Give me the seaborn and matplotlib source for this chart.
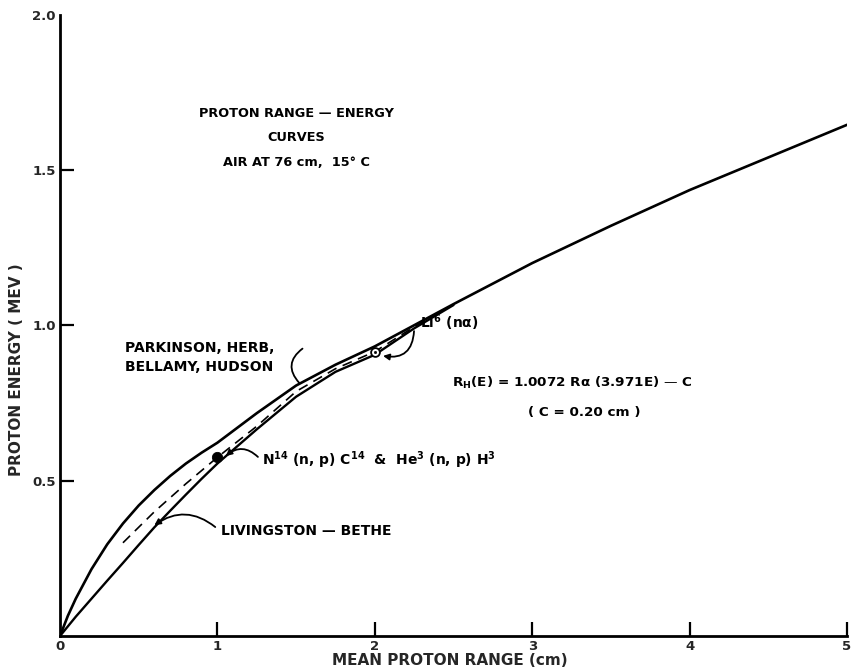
import matplotlib
matplotlib.use("Agg")
import matplotlib.pyplot as plt
import seaborn as sns
import pandas as pd

# Parkinson, Herb, Bellamy, Hudson curve (range in cm, energy in MeV)
upper_range = [0.0, 0.05, 0.1, 0.2, 0.3, 0.4, 0.5, 0.6, 0.7, 0.8, 0.9, 1.0, 1.25, 1.5, 1.75, 2.0, 2.25, 2.5, 3.0, 3.5, 4.0, 4.5, 5.0]
upper_energy = [0.0, 0.065, 0.12, 0.215, 0.295, 0.362, 0.42, 0.47, 0.515, 0.555, 0.59, 0.622, 0.717, 0.806, 0.873, 0.932, 1.0, 1.068, 1.2, 1.32, 1.435, 1.54, 1.645]

# Livingston-Bethe curve
lower_range = [0.0, 0.1, 0.2, 0.3, 0.4, 0.5, 0.6, 0.7, 0.8, 0.9, 1.0, 1.25, 1.5, 1.75, 2.0, 2.25, 2.5]
lower_energy = [0.0, 0.062, 0.12, 0.178, 0.235, 0.293, 0.35, 0.403, 0.455, 0.506, 0.555, 0.665, 0.77, 0.85, 0.905, 0.99, 1.065]

# R_H(E) = 1.0072 Ra(3.971E) - C, dashed
calc_range = [0.4, 0.6, 0.8, 1.0, 1.25, 1.5, 1.75, 2.0, 2.25, 2.4]
calc_energy = [0.30, 0.40, 0.49, 0.575, 0.675, 0.787, 0.86, 0.915, 0.995, 1.04]

# Calibration points
n14_point = (1.0, 0.575)
li6_point = (2.0, 0.915)

x_ticks = [0, 1, 2, 3, 4, 5]
x_tick_labels = ["0", "1", "2", "3", "4", "5"]
y_ticks = [0.5, 1.0, 1.5, 2.0]
y_tick_labels = ["0.5", "1.0", "1.5", "2.0"]

sns.set_theme(style="white")
plt.rcParams["font.family"] = ["DejaVu Sans"]
plt.rcParams["font.weight"] = "bold"
plt.rcParams["mathtext.default"] = "bf"

fig = plt.figure(figsize=(8.53, 6.70), dpi=100)
ax = fig.add_axes([60 / 853, 34 / 670, 787 / 853, 621.5 / 670])

upper_df = pd.DataFrame({"range": upper_range, "energy": upper_energy})
lower_df = pd.DataFrame({"range": lower_range, "energy": lower_energy})
calc_df = pd.DataFrame({"range": calc_range, "energy": calc_energy})

sns.lineplot(data=upper_df, x="range", y="energy", ax=ax, color="black", lw=1.9)
sns.lineplot(data=lower_df, x="range", y="energy", ax=ax, color="black", lw=1.7)
sns.lineplot(data=calc_df, x="range", y="energy", ax=ax, color="black", lw=1.2,
             linestyle=(0, (6, 4)))

sns.scatterplot(x=[n14_point[0]], y=[n14_point[1]], ax=ax, color="black", s=55,
                edgecolor="black", zorder=5)
sns.scatterplot(x=[li6_point[0]], y=[li6_point[1]], ax=ax, color="white", s=40,
                edgecolor="black", linewidth=1.3, zorder=5)
sns.scatterplot(x=[li6_point[0]], y=[li6_point[1]], ax=ax, color="black", s=4,
                edgecolor="black", zorder=6)

ax.set_xlim(0, 5)
ax.set_ylim(0, 2.0)
ax.set_xticks(x_ticks)
ax.set_xticklabels(x_tick_labels)
ax.set_yticks(y_ticks)
ax.set_yticklabels(y_tick_labels)

for side in ("top", "right"):
    ax.spines[side].set_visible(False)
for side in ("left", "bottom"):
    ax.spines[side].set_color("black")
    ax.spines[side].set_linewidth(2.0)

ax.tick_params(axis="both", direction="in", length=10, width=1.6, color="black",
               labelsize=9.5, pad=3, left=True, bottom=True)
ax.yaxis.get_major_ticks()[-1].tick1line.set_visible(False)
ax.xaxis.get_major_ticks()[0].tick1line.set_visible(False)
for lab in ax.get_xticklabels() + ax.get_yticklabels():
    lab.set_fontweight("bold")

ax.set_xlabel("MEAN PROTON RANGE (cm)", fontsize=11, fontweight="bold")
ax.xaxis.set_label_coords(0.4955, -0.028)
ax.set_ylabel("PROTON ENERGY ( MEV )", fontsize=11, fontweight="bold")
ax.yaxis.set_label_coords(-0.046, 0.428)

txt = dict(color="black", fontweight="bold")
ax.text(1.50, 1.683, "PROTON RANGE — ENERGY", ha="center", va="center", fontsize=9.3, **txt)
ax.text(1.50, 1.603, "CURVES", ha="center", va="center", fontsize=9.3, **txt)
ax.text(1.50, 1.525, "AIR AT 76 cm,  15° C", ha="center", va="center", fontsize=9.3, **txt)

ax.text(0.413, 0.927, "PARKINSON, HERB,", ha="left", va="center", fontsize=10, **txt)
ax.text(0.413, 0.866, "BELLAMY, HUDSON", ha="left", va="center", fontsize=10, **txt)

ax.text(2.29, 1.007, "Li$^{6}$ (nα)", ha="left", va="center", fontsize=10, **txt)
ax.text(3.255, 0.814, "R$_{H}$(E) = 1.0072 Rα (3.971E) — C", ha="center", va="center",
        fontsize=9.7, **txt)
ax.text(3.33, 0.718, "( C = 0.20 cm )", ha="center", va="center", fontsize=9.7, **txt)
ax.text(1.284, 0.566, "N$^{14}$ (n, p) C$^{14}$  &  He$^{3}$ (n, p) H$^{3}$", ha="left",
        va="center", fontsize=10, **txt)
ax.text(1.024, 0.338, "LIVINGSTON — BETHE", ha="left", va="center", fontsize=10, **txt)

# Leader lines from labels to curves
ax.annotate("", xy=(1.532, 0.808), xytext=(1.555, 0.93),
            arrowprops=dict(arrowstyle="-", color="black", lw=1.3,
                            connectionstyle="arc3,rad=0.6"))
ax.annotate("", xy=(2.035, 0.903), xytext=(2.25, 0.99),
            arrowprops=dict(arrowstyle="-|>", color="black", lw=1.3, mutation_scale=9,
                            connectionstyle="arc3,rad=-0.6"))
ax.annotate("", xy=(1.04, 0.573), xytext=(1.27, 0.57),
            arrowprops=dict(arrowstyle="-|>", color="black", lw=1.3, mutation_scale=9,
                            connectionstyle="arc3,rad=0.5"))
ax.annotate("", xy=(0.585, 0.351), xytext=(1.0, 0.345),
            arrowprops=dict(arrowstyle="-|>", color="black", lw=1.3, mutation_scale=9,
                            connectionstyle="arc3,rad=0.4"))

fig.savefig("out.png", dpi=100, facecolor="white")
